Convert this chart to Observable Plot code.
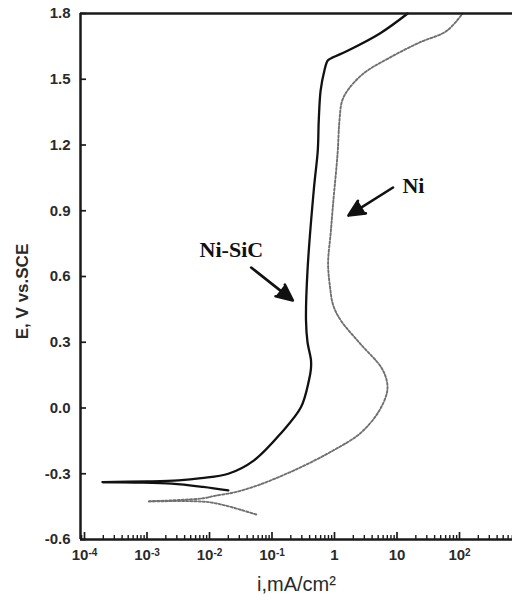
<!DOCTYPE html>
<html>
<head>
<meta charset="utf-8">
<script src="https://cdn.jsdelivr.net/npm/d3@7"></script>
<script src="https://cdn.jsdelivr.net/npm/@observablehq/plot@0.6"></script>
<style>
  html, body { margin: 0; padding: 0; background: #fff; }
  #chart { width: 512px; height: 597px; }
</style>
</head>
<body>
<div id="chart"></div>
<script>
// ---- Data (current density i in mA/cm², potential E in V vs SCE) ----
const niSicCathodicI = [0.020, 0.0079, 0.0025, 0.00063, 0.000195];
const niSicCathodicE = [-0.376, -0.360, -0.345, -0.340, -0.338];
const niSicAnodicI = [0.000195, 0.001, 0.0032, 0.0074, 0.020, 0.051, 0.138, 0.29, 0.39, 0.42, 0.42, 0.37, 0.35, 0.37, 0.47, 0.54, 0.56, 0.60, 0.69, 0.78, 0.95, 1.62, 5.4, 14.8];
const niSicAnodicE = [-0.338, -0.335, -0.330, -0.320, -0.300, -0.240, -0.116, 0.003, 0.126, 0.180, 0.220, 0.300, 0.400, 0.628, 1.006, 1.175, 1.312, 1.449, 1.540, 1.586, 1.600, 1.630, 1.710, 1.800];

const niCathodicI = [0.056, 0.032, 0.018, 0.010, 0.005, 0.0025, 0.00107];
const niCathodicE = [-0.486, -0.465, -0.445, -0.430, -0.425, -0.425, -0.426];
const niAnodicI = [0.00107, 0.0032, 0.0079, 0.0126, 0.025, 0.05, 0.087, 0.29, 0.95, 2.57, 5.0, 6.9, 6.9, 5.6, 2.57, 1.26, 0.95, 0.85, 0.79, 0.87, 0.95, 1.12, 1.2, 1.32, 1.62, 2.9, 7.8, 23, 62, 112];
const niAnodicE = [-0.426, -0.420, -0.412, -0.400, -0.385, -0.360, -0.335, -0.270, -0.194, -0.116, -0.020, 0.070, 0.120, 0.185, 0.294, 0.400, 0.470, 0.550, 0.660, 0.800, 0.933, 1.161, 1.312, 1.400, 1.449, 1.526, 1.600, 1.668, 1.720, 1.800];

const xTickValues = [1e-4, 1e-3, 1e-2, 1e-1, 1, 10, 100];
const xTickLabels = ["10^-4", "10^-3", "10^-2", "10^-1", "1", "10", "10^2"];
const yTickValues = [-0.6, -0.3, 0.0, 0.3, 0.6, 0.9, 1.2, 1.5, 1.8];
const yTickLabels = ["-0.6", "-0.3", "0.0", "0.3", "0.6", "0.9", "1.2", "1.5", "1.8"];

const seriesNames = ["Ni-SiC", "Ni"];
const labelI = [0.0224, 18.3];
const labelE = [0.719, 1.011];
const arrowTailI = [0.0464, 8.64];
const arrowTailE = [0.641, 1.006];
const arrowTipI = [0.215, 1.67];
const arrowTipE = [0.491, 0.878];

const xTitle = "i,mA/cm²";
const yTitle = "E, V vs.SCE";

// ---- Build tables ----
function rows(series, branch, I, E) {
  return I.map((v, k) => ({series, branch, i: v, E: E[k], key: series + "-" + branch}));
}
const niSic = [...rows("Ni-SiC", "c", niSicCathodicI, niSicCathodicE), ...rows("Ni-SiC", "a", niSicAnodicI, niSicAnodicE)];
const ni = [...rows("Ni", "c", niCathodicI, niCathodicE), ...rows("Ni", "a", niAnodicI, niAnodicE)];

const xDomain = [Math.pow(10, -4.064), Math.pow(10, 2.848)];
const yDomain = [-0.6, 1.8];

const minorTicks = [];
for (let d = -5; d <= 2; d++) {
  for (let m = 2; m <= 9; m++) {
    const v = m * Math.pow(10, d);
    if (v > xDomain[0] && v < xDomain[1]) minorTicks.push(v);
  }
}

const annotations = seriesNames.map((s, k) => ({
  s, li: labelI[k], le: labelE[k], ti: arrowTailI[k], te: arrowTailE[k], pi: arrowTipI[k], pe: arrowTipE[k]
}));

const W = 512, H = 597;
const mT = 13, mB = 58, mL = 80, mR = 0;
const frameW = W - mL - mR, frameH = H - mT - mB;
const ink = "#1a1a1a";

const chart = Plot.plot({
  width: W,
  height: H,
  marginTop: mT,
  marginBottom: mB,
  marginLeft: mL,
  marginRight: mR,
  style: {fontFamily: "'Liberation Sans', Arial, sans-serif", background: "#fff", color: ink, overflow: "visible"},
  x: {type: "log", domain: xDomain},
  y: {type: "linear", domain: yDomain},
  marks: [
    // curves
    Plot.line(ni, {x: "i", y: "E", z: "key", curve: "catmull-rom", stroke: "#707070", strokeWidth: 1.9, strokeDasharray: "2.2,1.9"}),
    Plot.line(niSic, {x: "i", y: "E", z: "key", curve: "catmull-rom", stroke: "#111", strokeWidth: 2.3}),
    // frame lines
    Plot.ruleX([xDomain[0]], {stroke: ink, strokeWidth: 2.5}),
    Plot.ruleY([yDomain[0]], {stroke: ink, strokeWidth: 2.5}),
    Plot.ruleY([yDomain[1]], {stroke: ink, strokeWidth: 2.5}),
    // inward ticks
    Plot.tickX(xTickValues, {x: d => d, insetTop: frameH - 7, stroke: ink, strokeWidth: 1.7}),
    Plot.tickX(minorTicks, {x: d => d, insetTop: frameH - 4, stroke: ink, strokeWidth: 1.4}),
    Plot.tickY(yTickValues, {y: d => d, insetRight: frameW - 6, stroke: ink, strokeWidth: 1.7}),
    // axis labels
    Plot.axisX({ticks: xTickValues, tickFormat: d => xTickLabels[xTickValues.indexOf(d)], tickSize: 0, tickPadding: 10, fontSize: 14, fontWeight: "bold", fill: "#2a2a2a", label: null}),
    Plot.axisY({ticks: yTickValues, tickFormat: d => yTickLabels[yTickValues.findIndex(v => Math.abs(v - d) < 1e-9)], tickSize: 0, tickPadding: 10, fontSize: 15, fontWeight: "bold", fill: "#2a2a2a", label: null}),
    Plot.text([xTitle], {frameAnchor: "bottom", textAnchor: "middle", dy: 45, lineAnchor: "middle", fontSize: 20, fill: "#2a2a2a"}),
    Plot.text([yTitle], {frameAnchor: "left", textAnchor: "middle", dx: -58, dy: 15, rotate: -90, lineAnchor: "middle", fontSize: 17, fontWeight: "bold", fill: "#2a2a2a"}),
    // annotations
    Plot.arrow(annotations, {x1: "ti", y1: "te", x2: "pi", y2: "pe", stroke: "#111", fill: "#111", strokeWidth: 2.6, headLength: 14, headAngle: 50}),
    Plot.text(annotations, {x: "li", y: "le", text: "s", fontFamily: "'Liberation Serif', 'Times New Roman', serif", fontWeight: "bold", fontSize: 22, fill: "#111", lineAnchor: "middle"})
  ]
});

// enforce tick label font sizes on each text element
chart.querySelectorAll('[aria-label="x-axis tick label"] text').forEach(t => { t.style.fontSize = "15px"; t.style.fontWeight = "bold"; });
chart.querySelectorAll('[aria-label="y-axis tick label"] text').forEach(t => { t.style.fontSize = "15px"; t.style.fontWeight = "bold"; });

// superscript exponents for x tick labels
chart.querySelectorAll('[aria-label="x-axis tick label"] text').forEach(t => {
  const s = t.textContent;
  if (s.includes("^")) {
    const [base, exp] = s.split("^");
    while (t.firstChild) t.removeChild(t.firstChild);
    const ns = "http://www.w3.org/2000/svg";
    const a = document.createElementNS(ns, "tspan");
    a.textContent = base;
    const b = document.createElementNS(ns, "tspan");
    b.textContent = exp;
    b.setAttribute("dy", "-0.42em");
    b.style.fontSize = "10px";
    t.appendChild(a);
    t.appendChild(b);
  }
});

document.getElementById("chart").appendChild(chart);
</script>
</body>
</html>
